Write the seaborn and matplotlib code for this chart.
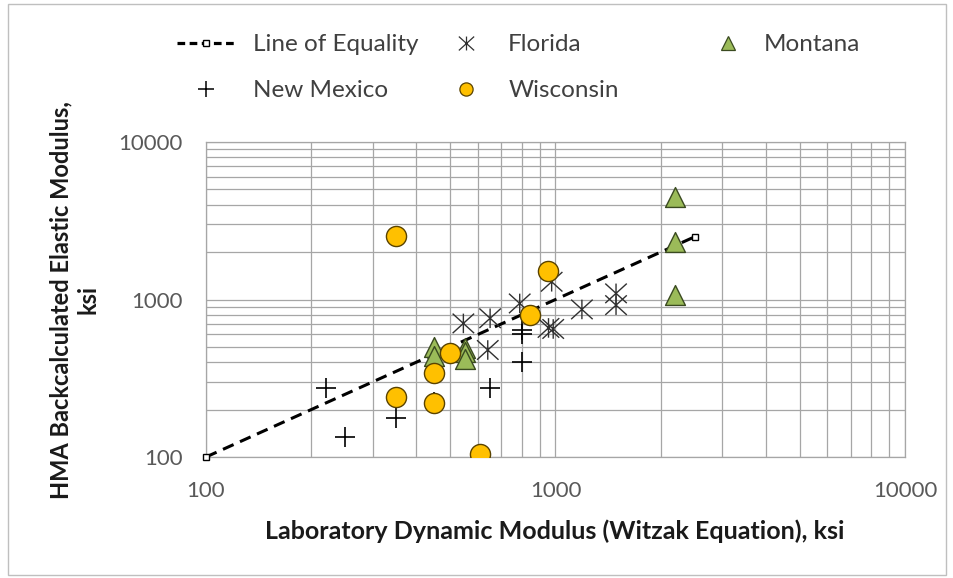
import matplotlib
matplotlib.use("Agg")
import matplotlib.pyplot as plt
import seaborn as sns
from matplotlib.lines import Line2D
from matplotlib.patches import Rectangle
from matplotlib.path import Path
from matplotlib.ticker import FixedLocator, LogLocator, NullFormatter

# Line of equality end points
equality_x = [100, 2500]
equality_y = [100, 2500]

# Laboratory (x) vs backcalculated (y) modulus, ksi
florida_x = [545, 650, 640, 790, 975, 955, 985, 1190, 1490, 1490]
florida_y = [705, 760, 478, 944, 1296, 660, 650, 865, 1094, 921]

new_mexico_x = [220, 250, 350, 450, 650, 800, 800, 800]
new_mexico_y = [276, 133, 178, 222, 273, 402, 603, 638]

wisconsin_x = [350, 950, 845, 500, 450, 350, 450, 610]
wisconsin_y = [2540, 1521, 795, 458, 339, 240, 220, 105]

montana_x = [450, 450, 550, 550, 550, 2200, 2200, 2200]
montana_y = [496, 436, 489, 465, 416, 4500, 2330, 1067]

tick_values = [100, 1000, 10000]
tick_labels = ["100", "1000", "10000"]

sns.set_theme(style="white")
plt.rcParams["font.family"] = ["Lato", "DejaVu Sans"]

W, H = 954, 578
fig = plt.figure(figsize=(W / 100, H / 100), dpi=100)
ax = fig.add_axes([206 / W, 1 - 457 / H, (905 - 206) / W, (457 - 142) / H])

GRID = "#A6A6A6"
ax.set_xscale("log")
ax.set_yscale("log")
ax.set_xlim(100, 10000)
ax.set_ylim(100, 10000)
ax.grid(which="both", color=GRID, linewidth=0.9)
ax.set_axisbelow(True)
for s in ax.spines.values():
    s.set_color(GRID)
    s.set_linewidth(0.9)

# asterisk marker: an X with a vertical stroke through it
asterisk = Path(
    [(-1.1, -1), (1.1, 1), (-1.1, 1), (1.1, -1), (0, -1), (0, 1)],
    [Path.MOVETO, Path.LINETO, Path.MOVETO, Path.LINETO, Path.MOVETO, Path.LINETO],
)

# line of equality
sns.lineplot(x=equality_x, y=equality_y, ax=ax, color="black", linewidth=2.2,
             linestyle=(0, (3.8, 2.3)), marker="s", markersize=4.5,
             markerfacecolor="white", markeredgecolor="black",
             markeredgewidth=1.0, zorder=3, clip_on=False)

ink = "#303030"
sns.scatterplot(x=florida_x, y=florida_y, ax=ax, marker=asterisk, s=240,
                facecolor="none", edgecolor=ink, linewidth=1.0, zorder=4)
sns.scatterplot(x=new_mexico_x, y=new_mexico_y, ax=ax, marker="+", s=220,
                color="black", linewidth=1.2, zorder=4)
sns.scatterplot(x=montana_x, y=montana_y, ax=ax, marker="^", s=205,
                color="#9BBB59", edgecolor="#3A4A20", linewidth=1.0, zorder=5)
sns.scatterplot(x=wisconsin_x, y=wisconsin_y, ax=ax, marker="o", s=210,
                color="#FFC000", edgecolor="#5A4300", linewidth=1.0, zorder=6)

for axis in (ax.xaxis, ax.yaxis):
    axis.set_major_locator(FixedLocator(tick_values))
    axis.set_minor_locator(LogLocator(base=10, subs=range(2, 10)))
    axis.set_minor_formatter(NullFormatter())
ax.set_xticklabels(tick_labels)
ax.set_yticklabels(tick_labels)
ax.tick_params(which="major", length=7, width=0.9, color=GRID, direction="out",
               labelsize=16, labelcolor="#595959", pad=10)
ax.tick_params(which="minor", length=0)

ax.set_xlabel("Laboratory Dynamic Modulus (Witzak Equation), ksi",
              fontsize=18, fontweight="bold", color="#1a1a1a")
ax.set_ylabel("HMA Backcalculated Elastic Modulus,\nksi",
              fontsize=17, fontweight="bold", color="#1a1a1a",
              linespacing=1.25)
ax.xaxis.set_label_coords(555 / W, 1 - 519 / H, transform=fig.transFigure)
ax.yaxis.set_label_coords(100 / W, 1 - 300 / H, transform=fig.transFigure)

# legend, three columns placed side by side
leg_kw = dict(frameon=False, fontsize=17.5, labelcolor="#404040",
              borderpad=0, borderaxespad=0, labelspacing=1.03,
              handlelength=2.4, loc="upper left")
h_eq = Line2D([], [], color="black", linewidth=2.3, linestyle=(0, (2.4, 1.4)),
              marker="s", markersize=4, markerfacecolor="white",
              markeredgecolor="black")
h_nm = Line2D([], [], linestyle="none", marker="+", markersize=12,
              color="black", markeredgewidth=1.1)
h_fl = Line2D([], [], linestyle="none", marker=asterisk, markersize=11,
              markerfacecolor="none", markeredgecolor=ink, markeredgewidth=0.9)
h_wi = Line2D([], [], linestyle="none", marker="o", markersize=9.5,
              markerfacecolor="#FFC000", markeredgecolor="#5A4300",
              markeredgewidth=0.9)
h_mt = Line2D([], [], linestyle="none", marker="^", markersize=9.5,
              markerfacecolor="#9BBB59", markeredgecolor="#3A4A20",
              markeredgewidth=0.9)

top = 1 - 34 / H
fig.legend([h_eq, h_nm], ["Line of Equality", "New Mexico"],
           bbox_to_anchor=(177 / W, top), handletextpad=0.72, **leg_kw)
fig.legend([h_fl, h_wi], ["Florida", "Wisconsin"],
           bbox_to_anchor=(437 / W, top), handletextpad=0.53, **leg_kw)
fig.legend([h_mt], ["Montana"],
           bbox_to_anchor=(699 / W, top), handletextpad=0.25, **leg_kw)

# chart area border
fig.patches.append(Rectangle((8 / W, 3 / H), (946 - 8) / W, (574 - 3) / H,
                             transform=fig.transFigure, fill=False,
                             edgecolor="#BFBFBF", linewidth=1.0))

fig.savefig("out.png", dpi=100)
